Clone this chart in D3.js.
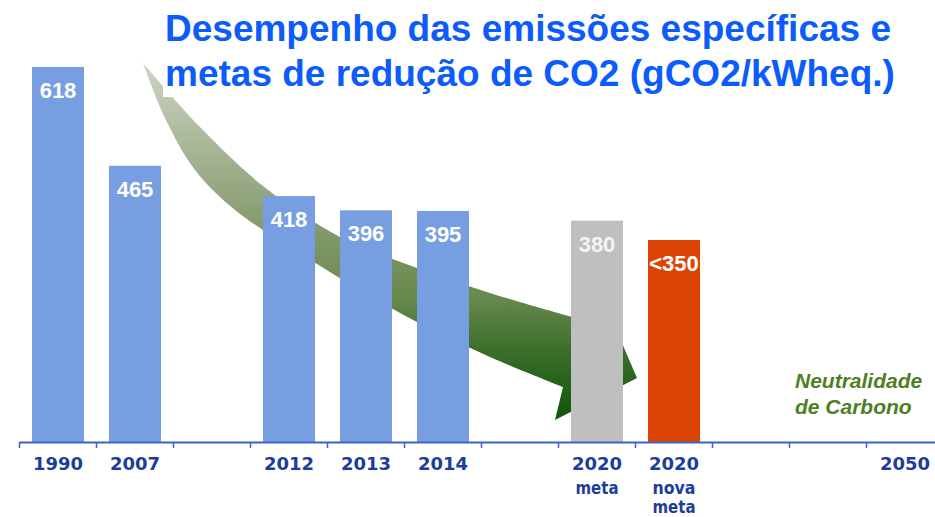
<!DOCTYPE html>
<html>
<head>
<meta charset="utf-8">
<script src="https://cdn.jsdelivr.net/npm/d3@7"></script>
<style>
  html, body { margin: 0; padding: 0; background: #ffffff; }
  svg { display: block; }
</style>
</head>
<body>
<svg id="chart" width="935" height="517"></svg>
<script>
// ---- data ----
const categories  = ["1990", "2007", "", "2012", "2013", "2014", "", "2020", "2020", "", "", "2050"];
const subLabels   = ["", "", "", "", "", "", "", "meta", "nova meta", "", "", ""];
const values      = [618, 465, null, 418, 396, 395, null, 380, 350, null, null, null];
const valueLabels = ["618", "465", "", "418", "396", "395", "", "380", "<350", "", "", ""];
const kinds       = ["real", "real", "", "real", "real", "real", "", "target", "newTarget", "", "", ""];
const titleLines  = ["Desempenho das emissões específicas e", "metas de redução de CO2 (gCO2/kWheq.)"];
const noteLines   = ["Neutralidade", "de Carbono"];

// ---- styles ----
const colorOf = { real: "#779ee1", target: "#bfbfbf", newTarget: "#dc4405" };
const W = 935, H = 517;
const svg = d3.select("#chart");

const idx = d3.range(categories.length);
const x = d3.scaleBand().domain(idx).range([19.5, 943.5]).paddingInner(0.325).paddingOuter(0.1625);
const y = d3.scaleLinear().domain([37.2, 721.7]).range([442, 0]);
const gap = (x.step() - x.bandwidth()) / 2;

// ---- arrow (decorative) ----
const defs = svg.append("defs");
const grad = defs.append("linearGradient").attr("id", "arrowGrad")
  .attr("gradientUnits", "userSpaceOnUse")
  .attr("x1", 0).attr("y1", 63).attr("x2", 0).attr("y2", 420);
[[0, "#cdd4c5"], [0.47, "#83996b"], [0.66, "#67884d"], [0.8, "#3e6e2c"], [1, "#0e560a"]].forEach(s =>
  grad.append("stop").attr("offset", s[0]).attr("stop-color", s[1]));

const upper = [[143,63],[200,127],[263,186],[340,237],[417,268],[490,293],[572,317]];
const lower = [[563,387],[490,357],[417,322],[360,290],[290,247],[235,210],[195,170],[165,118],[143,63]];
const head  = [[597,285],[637,378],[555,420]];
const lineGen = d3.line().curve(d3.curveCatmullRom.alpha(0.5));
const pathStr = lineGen(upper) + head.map(p => "L" + p[0] + "," + p[1]).join("") + "L" + lineGen(lower).slice(1) + "Z";
svg.append("path").attr("d", pathStr).attr("fill", "url(#arrowGrad)");

// ---- title box ----
svg.append("rect").attr("x", 163).attr("y", 0).attr("width", 772).attr("height", 97).attr("fill", "#ffffff");
svg.append("g").selectAll("text").data(titleLines).join("text")
  .attr("x", 165).attr("y", (d, i) => 41 + i * 45)
  .attr("font-family", "Liberation Sans, Arial, sans-serif")
  .attr("font-weight", "bold").attr("font-size", 37)
  .attr("fill", "#0b5cfb").text(d => d);

// ---- bars ----
const barIdx = idx.filter(i => values[i] != null);
svg.append("g").selectAll("rect").data(barIdx).join("rect")
  .attr("x", i => x(i)).attr("width", x.bandwidth())
  .attr("y", i => y(values[i])).attr("height", i => y.range()[0] - y(values[i]))
  .attr("fill", i => colorOf[kinds[i]]);

svg.append("g").selectAll("text").data(barIdx).join("text")
  .attr("x", i => x(i) + x.bandwidth() / 2).attr("y", i => y(values[i]) + 31)
  .attr("text-anchor", "middle")
  .attr("font-family", "Liberation Sans, Arial, sans-serif")
  .attr("font-weight", "bold").attr("font-size", 22)
  .attr("fill", i => kinds[i] === "target" ? "#f4f4f4" : "#ffffff")
  .text(i => valueLabels[i]);

// ---- axis ----
const axisY = y.range()[0];
const axisColor = "#3d62c4";
const gAxis = svg.append("g").attr("transform", `translate(0,${axisY})`);
gAxis.append("line").attr("x1", x(0) - gap).attr("x2", W).attr("y1", 0.5).attr("y2", 0.5)
  .attr("stroke", axisColor).attr("stroke-width", 2);
gAxis.selectAll("line.tick").data(idx).join("line").attr("class", "tick")
  .attr("x1", i => x(i) - gap).attr("x2", i => x(i) - gap)
  .attr("y1", 0).attr("y2", 6).attr("stroke", axisColor).attr("stroke-width", 1.5);

const axis = d3.axisBottom(x).tickSize(0).tickFormat(i => categories[i]);
const gLab = svg.append("g").attr("transform", `translate(0,${axisY})`).call(axis);
gLab.select(".domain").remove();
gLab.selectAll("text")
  .attr("y", 28).attr("dy", 0)
  .attr("font-family", "DejaVu Sans, Verdana, sans-serif")
  .attr("font-weight", "bold").attr("font-size", 18)
  .attr("fill", "#1c3d9a");

// sub labels
const subG = svg.append("g");
idx.filter(i => subLabels[i]).forEach(i => {
  subLabels[i].split(" ").forEach((w, k) => {
    subG.append("text")
      .attr("x", x(i) + x.bandwidth() / 2).attr("y", axisY + 52 + k * 19)
      .attr("text-anchor", "middle")
      .attr("font-family", "DejaVu Sans, Verdana, sans-serif")
      .attr("font-weight", "bold").attr("font-size", 17)
      .attr("textLength", 43).attr("lengthAdjust", "spacingAndGlyphs")
      .attr("fill", "#1c3d9a").text(w);
  });
});

// ---- note ----
svg.append("g").selectAll("text").data(noteLines).join("text")
  .attr("x", 795).attr("y", (d, i) => 388 + i * 26)
  .attr("font-family", "Liberation Sans, Arial, sans-serif")
  .attr("font-weight", "bold").attr("font-style", "italic").attr("font-size", 21)
  .attr("fill", "#4e7f23").text(d => d);
</script>
</body>
</html>
